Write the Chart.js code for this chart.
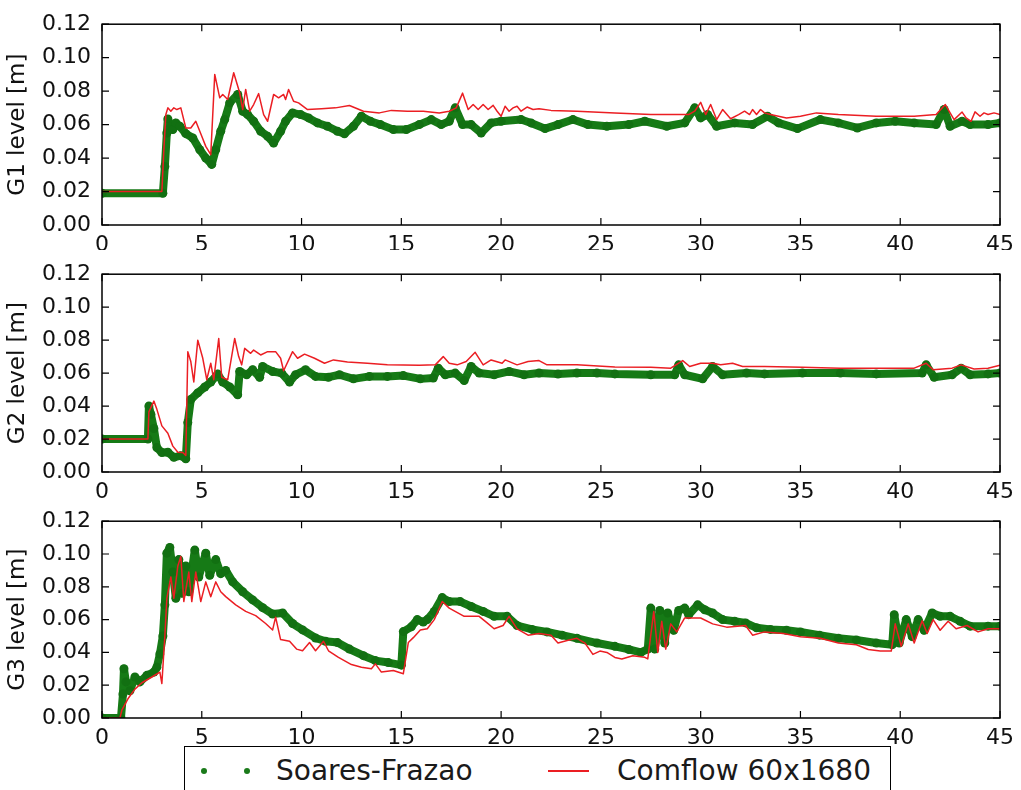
<!DOCTYPE html>
<html>
<head>
<meta charset="utf-8">
<script src="https://cdn.jsdelivr.net/npm/chart.js@4.4.1/dist/chart.umd.min.js"></script>
<style>
  body { margin: 0; background: #fff; }
  #wrap { position: relative; width: 1021px; height: 790px; overflow: hidden; background: #fff; }
  canvas { position: absolute; left: 0; }
  #legend { position: absolute; left: 184px; top: 746px; width: 707px; height: 60px;
            border: 1.5px solid #000; background: #fff; box-sizing: border-box;
            font-family: "DejaVu Sans", sans-serif; font-size: 28px; color: #1a1a1a; }
  #legend .dot { position: absolute; top: 21px; width: 6px; height: 6px; border-radius: 50%; background: #1a7a1a; }
  #legend .line { position: absolute; top: 23px; left: 363px; width: 41px; height: 2px; background: rgb(235,30,35); }
  #legend .txt { position: absolute; top: 0; height: 48px; line-height: 48px; white-space: nowrap; }
</style>
</head>
<body>
<div id="wrap">
  <canvas id="g1" width="1021" height="250" style="top:0px"></canvas>
  <canvas id="g2" width="1021" height="250" style="top:250px"></canvas>
  <canvas id="g3" width="1021" height="248" style="top:497px"></canvas>
  <div id="legend">
    <span class="dot" style="left:16px"></span>
    <span class="dot" style="left:59px"></span>
    <span class="txt" style="left:91px">Soares-Frazao</span>
    <span class="line"></span>
    <span class="txt" style="left:432px">Comflow 60x1680</span>
  </div>
</div>
<script>
// time [s], level [m]
var g1Obs = [[0,0.019],[3.05,0.019],[3.15,0.035],[3.25,0.055],[3.3,0.0634],[3.45,0.059],[3.55,0.057],[3.7,0.061],[3.9,0.059],[4.2,0.0546],[4.55,0.052],[4.9,0.045],[5.2,0.040],[5.5,0.0362],[5.7,0.045],[5.95,0.056],[6.15,0.063],[6.4,0.073],[6.8,0.078],[7.05,0.068],[7.3,0.066],[7.6,0.062],[7.95,0.056],[8.3,0.053],[8.6,0.049],[8.95,0.056],[9.2,0.062],[9.55,0.067],[9.95,0.066],[10.35,0.064],[10.8,0.061],[11.3,0.059],[11.8,0.056],[12.15,0.0545],[12.6,0.059],[13.0,0.065],[13.45,0.062],[13.95,0.060],[14.6,0.057],[15.25,0.057],[15.9,0.060],[16.5,0.063],[17.0,0.060],[17.4,0.062],[17.7,0.070],[18.07,0.060],[18.5,0.060],[19.0,0.055],[19.5,0.061],[20.0,0.062],[21.0,0.063],[21.5,0.061],[22.2,0.0576],[22.85,0.060],[23.6,0.063],[24.35,0.060],[25.3,0.059],[26.4,0.060],[27.2,0.062],[28.3,0.059],[29.2,0.061],[29.7,0.070],[30.0,0.064],[30.35,0.066],[30.8,0.059],[31.7,0.061],[32.6,0.060],[33.35,0.065],[33.9,0.061],[34.85,0.0576],[36.0,0.063],[36.9,0.061],[37.85,0.058],[38.8,0.061],[39.75,0.062],[40.7,0.061],[41.8,0.060],[42.2,0.069],[42.5,0.059],[43.1,0.062],[43.5,0.060],[44.4,0.060],[45,0.061]];
var g1Sim = [[0,0.020],[3.0,0.020],[3.1,0.045],[3.2,0.066],[3.3,0.070],[3.45,0.068],[3.6,0.070],[3.75,0.069],[3.95,0.070],[4.2,0.058],[4.45,0.058],[4.7,0.062],[5.0,0.053],[5.2,0.047],[5.45,0.042],[5.65,0.090],[5.9,0.076],[6.05,0.078],[6.3,0.075],[6.6,0.091],[6.9,0.079],[7.05,0.069],[7.2,0.081],[7.4,0.068],[7.6,0.072],[7.85,0.0785],[8.1,0.066],[8.3,0.062],[8.6,0.078],[8.85,0.076],[9.1,0.078],[9.2,0.075],[9.35,0.081],[9.6,0.074],[9.85,0.073],[10.3,0.069],[11.0,0.0695],[11.7,0.070],[12.4,0.0714],[13.1,0.068],[13.9,0.067],[14.5,0.0685],[15.3,0.068],[16.1,0.068],[16.9,0.067],[17.4,0.068],[17.75,0.070],[18.07,0.0788],[18.35,0.069],[18.6,0.072],[18.85,0.069],[19.1,0.072],[19.35,0.069],[19.6,0.0715],[19.8,0.068],[20.0,0.065],[20.2,0.071],[20.4,0.068],[20.6,0.070],[20.8,0.071],[21.0,0.068],[21.3,0.0705],[21.6,0.069],[21.9,0.0695],[22.5,0.0685],[23.8,0.068],[25.7,0.067],[27.5,0.066],[29.4,0.066],[29.7,0.068],[30.0,0.0733],[30.25,0.066],[30.5,0.072],[30.8,0.063],[31.1,0.069],[31.5,0.0635],[31.9,0.066],[32.2,0.068],[32.45,0.066],[32.6,0.069],[32.8,0.066],[33.0,0.069],[33.2,0.067],[33.5,0.066],[34.3,0.064],[35.0,0.065],[35.8,0.067],[36.9,0.066],[38.8,0.065],[40.7,0.065],[41.8,0.066],[42.26,0.072],[42.5,0.067],[42.7,0.063],[43.1,0.0675],[43.3,0.064],[43.55,0.062],[43.75,0.0676],[44.0,0.065],[44.2,0.067],[44.4,0.066],[44.7,0.067],[45,0.066]];

var g2Obs = [[0,0.020],[2.3,0.020],[2.35,0.040],[2.45,0.035],[2.6,0.0264],[2.75,0.0148],[3.0,0.0118],[3.3,0.012],[3.6,0.0089],[3.95,0.0099],[4.2,0.008],[4.3,0.030],[4.45,0.044],[4.8,0.048],[5.15,0.0516],[5.45,0.0546],[5.8,0.0594],[6.05,0.0546],[6.4,0.0516],[6.8,0.0468],[6.9,0.061],[7.25,0.059],[7.55,0.062],[7.9,0.0575],[8.05,0.064],[8.55,0.061],[9.0,0.060],[9.4,0.0546],[9.7,0.059],[10.2,0.062],[10.7,0.058],[11.35,0.0575],[11.9,0.059],[12.6,0.0565],[13.4,0.058],[14.3,0.058],[15.1,0.0585],[15.95,0.0565],[16.6,0.057],[16.85,0.063],[17.2,0.059],[17.7,0.060],[18.15,0.0555],[18.5,0.064],[18.9,0.060],[19.65,0.059],[20.4,0.061],[21.15,0.059],[21.9,0.060],[22.85,0.0594],[23.8,0.060],[24.8,0.060],[25.7,0.0595],[27.5,0.059],[28.7,0.059],[28.9,0.065],[29.2,0.059],[30.1,0.0565],[30.6,0.064],[31.1,0.059],[32.3,0.060],[33.2,0.0595],[35.1,0.060],[37.0,0.060],[38.8,0.0595],[41.1,0.060],[41.3,0.065],[41.7,0.0575],[42.6,0.059],[43.05,0.063],[43.5,0.059],[44.4,0.0595],[45,0.060]];
var g2Sim = [[0,0.020],[2.3,0.020],[2.35,0.0365],[2.6,0.043],[2.75,0.038],[3.0,0.028],[3.3,0.0235],[3.55,0.0157],[3.8,0.012],[4.05,0.0118],[4.2,0.010],[4.3,0.073],[4.45,0.067],[4.6,0.0546],[4.8,0.080],[5.05,0.069],[5.25,0.056],[5.45,0.066],[5.6,0.056],[5.85,0.081],[6.0,0.0575],[6.3,0.056],[6.65,0.081],[6.85,0.070],[7.0,0.065],[7.15,0.075],[7.45,0.072],[7.6,0.074],[7.95,0.071],[8.3,0.073],[8.7,0.073],[8.95,0.069],[9.1,0.0614],[9.55,0.073],[9.8,0.069],[10.15,0.0715],[10.65,0.069],[11.15,0.066],[11.6,0.068],[12.3,0.0668],[13.3,0.066],[14.3,0.065],[15.9,0.0647],[16.7,0.065],[17.1,0.070],[17.4,0.066],[17.8,0.065],[18.25,0.067],[18.7,0.0726],[19.1,0.065],[19.5,0.068],[20.05,0.066],[20.2,0.068],[20.8,0.065],[21.35,0.067],[21.9,0.0676],[22.3,0.065],[23.8,0.065],[25.7,0.0637],[27.5,0.0635],[28.5,0.063],[29.1,0.0676],[29.45,0.064],[30.0,0.066],[30.6,0.066],[31.0,0.065],[31.6,0.066],[32.1,0.064],[33.2,0.064],[35.1,0.0635],[37.0,0.063],[38.8,0.063],[40.7,0.063],[41.3,0.066],[41.65,0.062],[42.6,0.063],[43.05,0.065],[43.7,0.0625],[44.4,0.063],[45,0.0648]];

var g3Obs = [[0,0.0],[0.95,0.0],[1.05,0.0146],[1.1,0.030],[1.2,0.022],[1.4,0.0166],[1.65,0.025],[1.9,0.022],[2.25,0.026],[2.6,0.028],[2.75,0.031],[2.9,0.039],[3.05,0.050],[3.15,0.069],[3.25,0.1005],[3.4,0.104],[3.55,0.089],[3.7,0.073],[3.85,0.0966],[4.0,0.076],[4.2,0.0927],[4.35,0.077],[4.65,0.1024],[4.85,0.086],[5.2,0.1005],[5.4,0.087],[5.7,0.0966],[5.95,0.088],[6.2,0.090],[6.55,0.083],[7.05,0.077],[7.55,0.072],[8.05,0.0673],[8.55,0.0634],[9.05,0.064],[9.55,0.0576],[10.05,0.0537],[10.7,0.0488],[11.2,0.0468],[11.8,0.046],[12.4,0.042],[13.1,0.038],[13.7,0.035],[14.35,0.0338],[15.0,0.0322],[15.1,0.0527],[15.5,0.0556],[15.8,0.060],[16.1,0.0585],[16.3,0.060],[16.65,0.065],[17.05,0.0734],[17.4,0.071],[17.95,0.071],[18.5,0.068],[19.1,0.065],[19.65,0.062],[20.3,0.062],[20.8,0.0564],[21.55,0.054],[22.3,0.0525],[23.05,0.0505],[23.8,0.0486],[24.8,0.0457],[25.7,0.0437],[26.4,0.0418],[27.0,0.040],[27.35,0.042],[27.5,0.067],[27.7,0.042],[27.95,0.0656],[28.2,0.0457],[28.35,0.064],[28.65,0.0535],[28.9,0.0656],[29.2,0.067],[29.4,0.063],[29.85,0.069],[30.2,0.066],[30.6,0.064],[31.1,0.060],[31.7,0.059],[32.25,0.058],[32.8,0.055],[33.5,0.054],[34.3,0.0535],[35.0,0.0525],[35.95,0.0505],[36.9,0.0486],[37.8,0.0476],[38.8,0.0457],[39.6,0.0447],[39.7,0.063],[39.95,0.0457],[40.3,0.060],[40.6,0.0496],[40.9,0.060],[41.2,0.0535],[41.6,0.064],[42.0,0.062],[42.5,0.062],[43.0,0.059],[43.5,0.056],[44.4,0.056],[45,0.056]];
var g3Sim = [[0,0.0],[0.9,0.0],[1.0,0.005],[1.3,0.0117],[1.65,0.0176],[2.0,0.0215],[2.5,0.025],[2.9,0.028],[3.0,0.021],[3.15,0.050],[3.25,0.073],[3.45,0.086],[3.6,0.073],[3.8,0.0927],[3.95,0.0985],[4.1,0.071],[4.35,0.089],[4.5,0.071],[4.7,0.089],[4.95,0.071],[5.2,0.083],[5.45,0.074],[5.7,0.083],[5.95,0.077],[6.2,0.074],[6.7,0.069],[7.2,0.065],[7.7,0.0624],[8.2,0.0576],[8.55,0.0537],[8.7,0.0615],[8.95,0.0478],[9.4,0.0468],[9.75,0.042],[10.05,0.041],[10.4,0.046],[10.7,0.041],[11.1,0.0468],[11.35,0.041],[11.85,0.037],[12.5,0.0326],[13.0,0.031],[13.5,0.030],[13.7,0.033],[14.0,0.028],[14.6,0.029],[15.1,0.027],[15.35,0.046],[15.6,0.049],[15.95,0.0537],[16.3,0.0544],[16.65,0.060],[17.05,0.071],[17.4,0.067],[18.15,0.062],[18.9,0.062],[19.3,0.058],[19.65,0.0544],[20.1,0.0564],[20.4,0.062],[20.8,0.0544],[21.35,0.0505],[21.9,0.0515],[22.5,0.0505],[22.85,0.0457],[23.4,0.0476],[23.8,0.0486],[24.2,0.0457],[24.6,0.0388],[24.95,0.0408],[25.3,0.040],[25.7,0.0369],[26.05,0.036],[26.6,0.038],[27.2,0.037],[27.35,0.036],[27.65,0.065],[27.85,0.040],[28.05,0.059],[28.25,0.042],[28.5,0.0574],[28.8,0.0525],[29.2,0.061],[30.0,0.061],[30.6,0.0574],[31.3,0.0554],[32.25,0.0564],[32.6,0.0505],[33.2,0.0525],[34.15,0.0515],[35.0,0.0496],[36.0,0.0486],[36.9,0.0457],[37.8,0.0447],[38.4,0.0418],[39.0,0.0408],[39.55,0.0408],[39.75,0.0574],[40.05,0.0437],[40.4,0.0574],[40.7,0.0457],[41.1,0.0593],[41.35,0.0515],[41.65,0.060],[42.0,0.0535],[42.4,0.059],[42.8,0.0544],[43.35,0.0564],[43.9,0.0525],[44.4,0.0544],[45,0.0544]];

var xMin = 0, xMax = 45, xStep = 5;
var yMin = 0, yMax = 0.12, yStep = 0.02;
var labels = ["G1 level [m]", "G2 level [m]", "G3 level [m]"];

var font = { family: "'DejaVu Sans', sans-serif", size: 22 };
var titleFont = { family: "'DejaVu Sans', sans-serif", size: 23 };

// box around the plot area + matplotlib style inward ticks on all four sides
var frame = {
    id: 'frame',
    afterDatasetsDraw: function(chart) {
        var ctx = chart.ctx, a = chart.chartArea, sx = chart.scales.x, sy = chart.scales.y;
        ctx.save();
        ctx.strokeStyle = '#000';
        ctx.lineWidth = 1.2;
        ctx.beginPath();
        sx.ticks.forEach(function(t) {
            var px = sx.getPixelForValue(t.value);
            ctx.moveTo(px, a.bottom); ctx.lineTo(px, a.bottom - 7);
            ctx.moveTo(px, a.top); ctx.lineTo(px, a.top + 7);
        });
        sy.ticks.forEach(function(t) {
            var py = sy.getPixelForValue(t.value);
            ctx.moveTo(a.left, py); ctx.lineTo(a.left + 7, py);
            ctx.moveTo(a.right, py); ctx.lineTo(a.right - 7, py);
        });
        ctx.stroke();
        ctx.lineWidth = 1.5;
        ctx.strokeRect(a.left, a.top, a.right - a.left, a.bottom - a.top);
        ctx.restore();
    }
};

function toXY(arr) {
    return arr.map(function(p) { return { x: p[0], y: p[1] }; });
}

function panel(id, obs, sim, label, padTop, xHeight) {
    var ctx = document.getElementById(id).getContext('2d');
    return new Chart(ctx, {
        type: 'line',
        data: {
            datasets: [{
                label: 'Soares-Frazao',
                data: toXY(obs),
                borderColor: 'rgb(22,122,22)',
                backgroundColor: 'rgb(22,122,22)',
                borderWidth: 8,
                borderJoinStyle: 'round',
                borderCapStyle: 'round',
                pointRadius: 4.5,
                pointBorderWidth: 0,
                pointBackgroundColor: 'rgb(18,112,18)',
                tension: 0,
                order: 1
            }, {
                label: 'Comflow 60x1680',
                data: toXY(sim),
                borderColor: 'rgb(235,30,35)',
                borderWidth: 1.5,
                borderJoinStyle: 'round',
                pointRadius: 0,
                tension: 0,
                order: 0
            }]
        },
        options: {
            responsive: false,
            animation: false,
            layout: { padding: { left: 0, right: 16, top: padTop, bottom: 0 } },
            plugins: { legend: { display: false }, tooltip: { enabled: false } },
            scales: {
                x: {
                    type: 'linear', min: xMin, max: xMax,
                    grid: { display: false, drawTicks: false },
                    border: { display: false },
                    ticks: { stepSize: xStep, font: font, color: '#111', padding: 7, maxRotation: 0, autoSkip: false },
                    afterFit: function(s) { s.height = xHeight; }
                },
                y: {
                    min: yMin, max: yMax,
                    grid: { display: false, drawTicks: false },
                    border: { display: false },
                    ticks: { stepSize: yStep, font: font, color: '#111', padding: 11,
                             callback: function(v) { return v.toFixed(2); } },
                    title: { display: true, text: label, font: titleFont, color: '#111', padding: { top: 4, bottom: 0 } },
                    afterFit: function(s) { s.width = 102; }
                }
            }
        },
        plugins: [frame]
    });
}

panel('g1', g1Obs, g1Sim, labels[0], 20, 25);
panel('g2', g2Obs, g2Sim, labels[1], 16, 28);
panel('g3', g3Obs, g3Sim, labels[2], 16, 27);
</script>
</body>
</html>
